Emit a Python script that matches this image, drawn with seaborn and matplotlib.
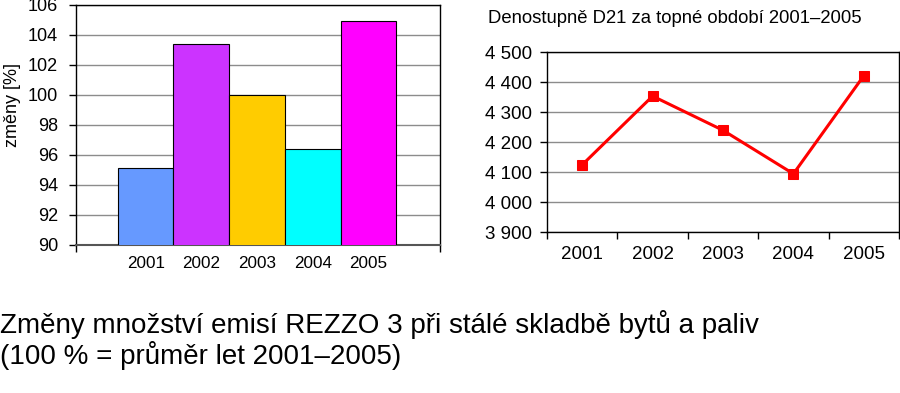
import numpy as np
import pandas as pd
import matplotlib
matplotlib.use("Agg")
import matplotlib.pyplot as plt
import seaborn as sns

# data
years = ["2001", "2002", "2003", "2004", "2005"]
emise_zmeny = [95.1, 103.4, 100.0, 96.4, 104.9]
bar_colors = ["#6699FF", "#CC33FF", "#FFCC00", "#00FFFF", "#FF00FF"]
denostupne = [4125, 4354, 4240, 4095, 4422]

sns.set_style("white")
plt.rcParams['font.family'] = ['Liberation Sans', 'DejaVu Sans']
plt.rcParams['text.color'] = 'black'
plt.rcParams['xtick.color'] = 'black'
plt.rcParams['ytick.color'] = 'black'

fig = plt.figure(figsize=(9, 3.93), dpi=100)

# --- levy graf: sloupce
ax1 = fig.add_axes([0.0844, 0.3766, 0.4044, 0.6107])
df1 = pd.DataFrame({"rok": years, "zmena": emise_zmeny})
sns.barplot(data=df1, x="rok", y="zmena", hue="rok", palette=bar_colors, saturation=1,
            width=1.0, edgecolor="black", linewidth=0.8, legend=False, ax=ax1, zorder=3)
ax1.set_ylim(90, 106)
ax1.set_xlim(-1.25, 5.28)
ax1.set_yticks(np.arange(90, 107, 2))
ax1.yaxis.grid(True, color="#8c8c8c", linewidth=1)
ax1.set_axisbelow(True)
ax1.set_xticks([-1.25, 5.28])
ax1.set_xticklabels(["", ""])
ax1.set_xticks(range(5), minor=True)
ax1.set_xticklabels(years, minor=True)
ax1.tick_params(axis="x", which="minor", length=0, pad=8, labelsize=12.3)
ax1.tick_params(axis="x", which="major", length=5, width=1, color="black", direction="out", bottom=True)
ax1.tick_params(axis="y", length=5, width=1, color="black", direction="out", left=True, labelsize=13, pad=8)
ax1.set_xlabel("")
ax1.set_ylabel("")
for s in ax1.spines.values():
    s.set_color("black")
    s.set_linewidth(1)
ax1.spines["bottom"].set_color("#555555")
ax1.spines["bottom"].set_linewidth(1.5)
fig.text(0.014, 0.733, "změny [%]", rotation=90, fontsize=13, ha="center", va="center")

# --- pravy graf: denostupne
ax2 = fig.add_axes([0.6078, 0.4089, 0.3911, 0.4580])
df2 = pd.DataFrame({"rok": years, "D21": denostupne})
sns.lineplot(data=df2, x="rok", y="D21", color="#FF0000", linewidth=2.2,
             marker="s", markersize=7.5, markeredgecolor="#FF0000", ax=ax2, zorder=3)
ax2.set_ylim(3900, 4500)
ax2.set_xlim(-0.5, 4.5)
ax2.set_yticks(np.arange(3900, 4501, 100))
ax2.set_yticklabels([f"{v:,}".replace(",", " ") for v in range(3900, 4501, 100)])
ax2.yaxis.grid(True, color="#8c8c8c", linewidth=1)
ax2.set_axisbelow(True)
ax2.set_xticks(np.arange(-0.5, 4.6, 1))
ax2.set_xticklabels([""] * 6)
ax2.set_xticks(range(5), minor=True)
ax2.set_xticklabels(years, minor=True)
ax2.tick_params(axis="x", which="minor", length=0, pad=10, labelsize=13.5)
ax2.tick_params(axis="x", which="major", length=5, width=1, color="black", direction="out", bottom=True)
ax2.tick_params(axis="y", length=5, width=1, color="black", direction="out", left=True, labelsize=13.5, pad=6)
ax2.set_xlabel("")
ax2.set_ylabel("")
for s in ax2.spines.values():
    s.set_color("black")
    s.set_linewidth(1)

fig.text(0.542, 0.954, "Denostupně D21 za topné období 2001–2005", fontsize=13.3,
         ha="left", va="center")

# popisek dole
fig.text(0.0, 0.135, "Změny množství emisí REZZO 3 při stálé skladbě bytů a paliv\n(100 % = průměr let 2001–2005)",
         fontsize=20, ha="left", va="center", linespacing=1.1)

fig.savefig("out.png", dpi=100)
